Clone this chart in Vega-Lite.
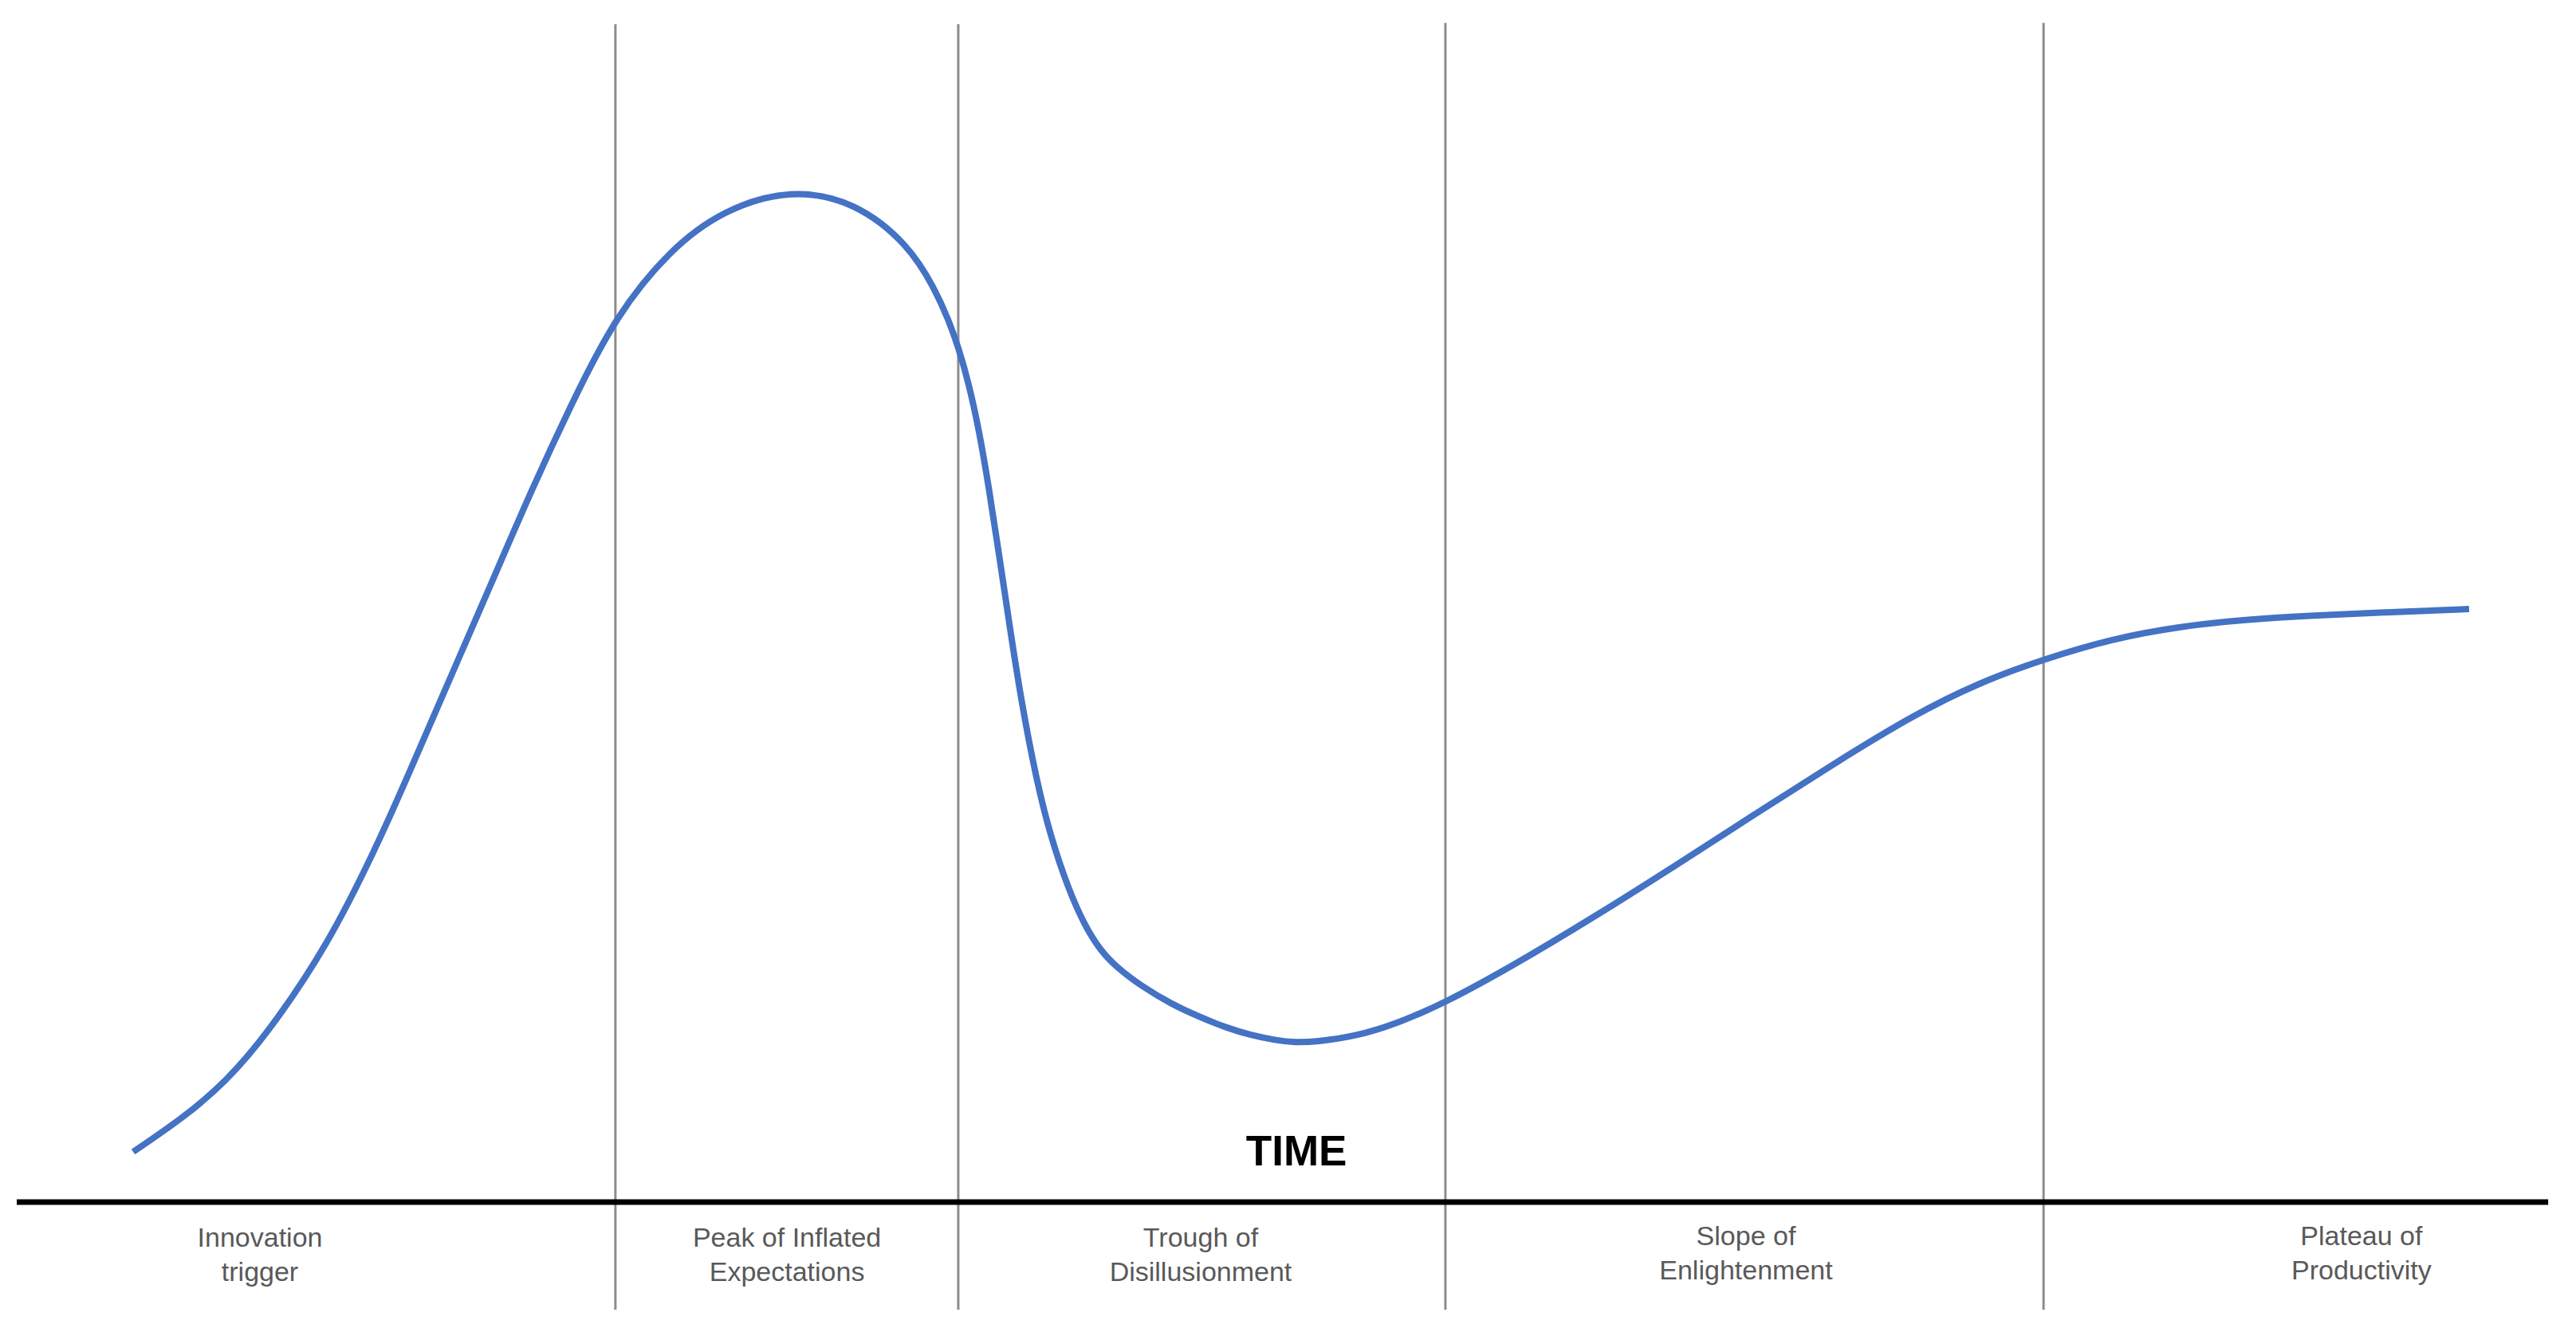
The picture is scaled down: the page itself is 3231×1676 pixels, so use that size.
{
  "$schema": "https://vega.github.io/schema/vega-lite/v6.json",
  "width": 3231,
  "height": 1676,
  "autosize": {"type": "fit", "contains": "padding"},
  "padding": 0,
  "background": "white",
  "config": {"view": {"stroke": null}},
  "datasets": {
    "curve": [
      {"t": 5.17, "e": 4.18}, {"t": 7.21, "e": 7.16}, {"t": 8.76, "e": 10.01}, {"t": 10.31, "e": 13.79},
      {"t": 12.75, "e": 21.42}, {"t": 14.67, "e": 29.84}, {"t": 15.57, "e": 34.15}, {"t": 17.55, "e": 43.97},
      {"t": 19.10, "e": 51.59}, {"t": 20.64, "e": 59.28}, {"t": 22.28, "e": 66.84}, {"t": 23.89, "e": 73.67},
      {"t": 26.00, "e": 79.24}, {"t": 28.07, "e": 82.56}, {"t": 30.73, "e": 84.3}, {"t": 33.21, "e": 83.22},
      {"t": 35.28, "e": 79.64}, {"t": 36.30, "e": 75.93}, {"t": 36.83, "e": 73.34}, {"t": 37.20, "e": 71.15},
      {"t": 37.60, "e": 68.17}, {"t": 38.01, "e": 64.19}, {"t": 38.38, "e": 59.55}, {"t": 38.78, "e": 53.91},
      {"t": 39.18, "e": 48.14}, {"t": 39.62, "e": 41.98}, {"t": 40.24, "e": 35.01}, {"t": 40.79, "e": 30.37},
      {"t": 41.47, "e": 26.06}, {"t": 42.09, "e": 23.08}, {"t": 42.71, "e": 20.95}, {"t": 43.33, "e": 19.56},
      {"t": 44.35, "e": 17.90}, {"t": 45.50, "e": 16.45}, {"t": 46.43, "e": 15.52}, {"t": 47.66, "e": 14.46},
      {"t": 48.50, "e": 13.93}, {"t": 49.52, "e": 13.46}, {"t": 50.29, "e": 13.27}, {"t": 51.07, "e": 13.33},
      {"t": 52.62, "e": 13.79}, {"t": 54.16, "e": 14.79}, {"t": 56.11, "e": 16.58}, {"t": 58.81, "e": 19.76},
      {"t": 61.90, "e": 23.74}, {"t": 65.00, "e": 27.92}, {"t": 68.09, "e": 32.23}, {"t": 71.19, "e": 36.47},
      {"t": 74.28, "e": 40.52}, {"t": 76.85, "e": 43.24}, {"t": 79.33, "e": 45.16}, {"t": 82.02, "e": 46.88},
      {"t": 84.59, "e": 47.88}, {"t": 87.19, "e": 48.47}, {"t": 89.76, "e": 48.81}, {"t": 92.85, "e": 49.07},
      {"t": 95.85, "e": 49.34}
    ],
    "boundaries": [
      {"t": 23.89, "top": 98.0, "bottom": -8.95},
      {"t": 37.20, "top": 98.0, "bottom": -8.95},
      {"t": 56.11, "top": 98.1, "bottom": -8.95},
      {"t": 79.33, "top": 98.1, "bottom": -8.95}
    ],
    "baseline": [{"t0": 0.65, "t1": 98.92, "e": 0}],
    "phases": [
      {"t": 10.09, "e": -3.05, "label": "Innovation\ntrigger"},
      {"t": 30.55, "e": -3.05, "label": "Peak of Inflated\nExpectations"},
      {"t": 46.61, "e": -3.05, "label": "Trough of\nDisillusionment"},
      {"t": 67.78, "e": -2.92, "label": "Slope of\nEnlightenment"},
      {"t": 91.67, "e": -2.92, "label": "Plateau of\nProductivity"}
    ],
    "title": [{"t": 50.33, "e": 4.11, "label": "TIME"}]
  },
  "layer": [
    {
      "data": {"name": "boundaries"},
      "mark": {"type": "rule", "color": "#8c8c8c", "strokeWidth": 3},
      "encoding": {
        "x": {"field": "t", "type": "quantitative", "scale": {"domain": [0, 100], "nice": false, "zero": false}, "axis": null},
        "y": {"field": "top", "type": "quantitative", "scale": {"domain": [-11.14, 100], "nice": false, "zero": false}, "axis": null},
        "y2": {"field": "bottom"}
      }
    },
    {
      "data": {"name": "baseline"},
      "mark": {"type": "rule", "color": "#000000", "strokeWidth": 7},
      "encoding": {
        "x": {"field": "t0", "type": "quantitative"},
        "x2": {"field": "t1"},
        "y": {"field": "e", "type": "quantitative"}
      }
    },
    {
      "data": {"name": "curve"},
      "mark": {"type": "line", "color": "#4472C4", "strokeWidth": 8, "interpolate": "basis", "strokeCap": "butt"},
      "encoding": {
        "x": {"field": "t", "type": "quantitative"},
        "y": {"field": "e", "type": "quantitative"}
      }
    },
    {
      "data": {"name": "phases"},
      "mark": {"type": "text", "font": "Liberation Sans", "fontSize": 34, "color": "#595959", "align": "center", "baseline": "middle", "lineBreak": "\n", "lineHeight": 43},
      "encoding": {
        "x": {"field": "t", "type": "quantitative"},
        "y": {"field": "e", "type": "quantitative"},
        "text": {"field": "label"}
      }
    },
    {
      "data": {"name": "title"},
      "mark": {"type": "text", "font": "Liberation Sans", "fontSize": 53, "fontWeight": "bold", "color": "#000000", "align": "center", "baseline": "middle"},
      "encoding": {
        "x": {"field": "t", "type": "quantitative"},
        "y": {"field": "e", "type": "quantitative"},
        "text": {"field": "label"}
      }
    }
  ]
}
